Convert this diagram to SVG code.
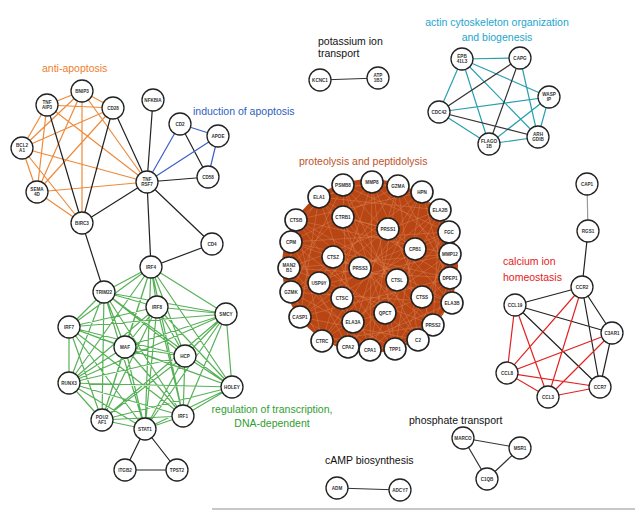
<svg xmlns="http://www.w3.org/2000/svg" width="635" height="511" viewBox="0 0 635 511">
<style>
.n circle{fill:#fff;stroke:#222;stroke-width:1.3}
.p circle{fill:#fff;stroke:#222;stroke-width:1.6}
.n text,.p text{font-family:"Liberation Sans",Arial,sans-serif;font-size:4.6px;font-weight:bold;text-anchor:middle;fill:#333}
.t{font-family:"Liberation Sans",Arial,sans-serif;font-size:10.5px}
.e{fill:none;stroke-width:1.2}
</style>
<rect width="635" height="511" fill="#fff"/>
<line x1="212" y1="509" x2="635" y2="509" stroke="#c8c8c8" stroke-width="2"/>
<ellipse id="proteolysis-mass" cx="370" cy="266" rx="88" ry="87" fill="#b84514"/>
<g id="connectors">
<path class="e" stroke="#ee8a3a" d="M82 91L47 105M82 91L113 108M82 91L22 148M82 91L37 192M82 91L82 223M82 91L147 182M47 105L113 108M47 105L22 148M47 105L37 192M47 105L147 182M113 108L22 148M113 108L37 192M22 148L37 192M22 148L82 223M37 192L82 223M22 148L147 182M37 192L147 182"/>
<path class="e" stroke="#222" d="M47 105L82 223M113 108L82 223M113 108L147 182M82 223L147 182M147 182L153 100M147 182L151 267M147 182L212 244M151 267L212 244M82 223L104 292M180 124L208 177M147 182L208 177"/>
<path class="e" stroke="#3a5fc8" d="M147 182L180 124M147 182L218 136M180 124L218 136M218 136L208 177"/>
<path class="e" stroke="#2e9e2e" stroke-opacity="0.8" d="M104 292L151 267M104 292L157 307M104 292L69 327M104 292L125 347M104 292L226 314M104 292L185 356M104 292L232 387M104 292L69 383M104 292L102 420M104 292L145 429M104 292L183 416M151 267L157 307M151 267L69 327M151 267L125 347M151 267L226 314M151 267L185 356M151 267L232 387M151 267L69 383M151 267L102 420M151 267L145 429M151 267L183 416M157 307L69 327M157 307L125 347M157 307L226 314M157 307L185 356M157 307L232 387M157 307L69 383M157 307L102 420M157 307L145 429M157 307L183 416M69 327L125 347M69 327L226 314M69 327L185 356M69 327L232 387M69 327L69 383M69 327L102 420M69 327L145 429M69 327L183 416M125 347L226 314M125 347L185 356M125 347L232 387M125 347L69 383M125 347L102 420M125 347L145 429M125 347L183 416M226 314L185 356M226 314L232 387M226 314L69 383M226 314L102 420M226 314L145 429M226 314L183 416M185 356L232 387M185 356L69 383M185 356L102 420M185 356L145 429M185 356L183 416M232 387L69 383M232 387L102 420M232 387L145 429M232 387L183 416M69 383L102 420M69 383L145 429M69 383L183 416M102 420L145 429M102 420L183 416M145 429L183 416"/>
<path class="e" stroke="#222" d="M145 429L125 470M145 429L177 470M125 470L177 470"/>
<g fill="none" stroke="#e08a5a" stroke-width="0.6" stroke-opacity="0.7">
<polygon points="319,197 450,278 300,317 398,186 418,340 291,242 449,232 348,347 343,185 452,303 291,292 422,192 395,349 296,220 450,254 322,341 372,182 433,325 289,268 440,210 370,350"/>
<polygon points="319,197 440,210 433,325 322,341 296,220 422,192 452,303 348,347 291,242 398,186 450,278 370,350 289,268 372,182 450,254 395,349 291,292 343,185 449,232 418,340 300,317"/>
<polygon points="319,197 433,325 296,220 452,303 291,242 450,278 289,268 450,254 291,292 449,232 300,317 440,210 322,341 422,192 348,347 398,186 370,350 372,182 395,349 343,185 418,340"/>
<polygon points="319,197 372,182 422,192 449,232 450,278 433,325 395,349 348,347 300,317 289,268 296,220 343,185 398,186 440,210 450,254 452,303 418,340 370,350 322,341 291,292 291,242"/>
<polygon points="343,217 388,229 415,249 397,280 422,297 385,313 353,322 342,298 319,283 333,257 360,268 343,217 397,280 353,322 319,283 388,229"/>
</g>
<path class="e" stroke="#2a9fb0" d="M462 59L520 58M462 59L439 112M462 59L549 97M462 59L538 137M462 59L489 144M520 58L538 137M549 97L439 112M549 97L489 144M549 97L538 137M439 112L489 144M489 144L538 137"/>
<path class="e" stroke="#333" d="M439 112L520 58M520 58L489 144M439 112L538 137"/>
<path class="e" stroke="#333" d="M320 80L378 78"/>
<path class="e" stroke="#999" d="M587 184L588 231"/>
<path class="e" stroke="#222" d="M588 231L582 287M582 287L515 305M582 287L612 333M582 287L600 387M515 305L612 333M515 305L600 387M612 333L600 387"/>
<path class="e" stroke="#e32222" d="M582 287L507 373M582 287L548 397M515 305L507 373M515 305L548 397M612 333L507 373M612 333L548 397M507 373L548 397M507 373L600 387M548 397L600 387"/>
<path class="e" stroke="#333" d="M463 438L520 448M463 438L487 479M487 479L520 448M337 488L400 490"/>
</g>
<g id="labels">
<text class="t" x="42" y="72" fill="#ee7f2d" font-size="11">anti-apoptosis</text>
<text class="t" x="193" y="115" fill="#2d5fc0" font-size="11">induction of apoptosis</text>
<text class="t" x="318" y="45" fill="#111" font-size="10">potassium ion</text>
<text class="t" x="318" y="57" fill="#111" font-size="10">transport</text>
<text class="t" x="497" y="26" fill="#22a5cc" text-anchor="middle">actin cytoskeleton organization</text>
<text class="t" x="497" y="41" fill="#22a5cc" text-anchor="middle">and biogenesis</text>
<text class="t" x="299" y="165" fill="#c0532a" font-size="11">proteolysis and peptidolysis</text>
<text class="t" x="503" y="265" fill="#e31b1b" font-size="12">calcium ion</text>
<text class="t" x="503" y="281" fill="#e31b1b" font-size="12">homeostasis</text>
<text class="t" x="272" y="413" fill="#2f9e2f" text-anchor="middle">regulation of transcription,</text>
<text class="t" x="272" y="427" fill="#2f9e2f" text-anchor="middle">DNA-dependent</text>
<text class="t" x="409" y="424" fill="#111">phosphate transport</text>
<text class="t" x="325" y="464" fill="#111">cAMP biosynthesis</text>
</g>
<g id="nodes">
<g id="BNIP3" class="n" transform="translate(82,91)"><circle r="11"/><text y="1.6">BNIP3</text></g>
<g id="TNFAIP3" class="n" transform="translate(47,105)"><circle r="11"/><text y="-1">TNF<tspan x="0" dy="5">AIP3</tspan></text></g>
<g id="CD28" class="n" transform="translate(113,108)"><circle r="11"/><text y="1.6">CD28</text></g>
<g id="BCL2A1" class="n" transform="translate(22,148)"><circle r="11"/><text y="-1">BCL2<tspan x="0" dy="5">A1</tspan></text></g>
<g id="SEMA4D" class="n" transform="translate(37,192)"><circle r="11"/><text y="-1">SEMA<tspan x="0" dy="5">4D</tspan></text></g>
<g id="BIRC3" class="n" transform="translate(82,223)"><circle r="11"/><text y="1.6">BIRC3</text></g>
<g id="TNFRSF7" class="n" transform="translate(147,182)"><circle r="11"/><text y="-1">TNF<tspan x="0" dy="5">RSF7</tspan></text></g>
<g id="NFKBIA" class="n" transform="translate(153,100)"><circle r="11"/><text y="1.6">NFKBIA</text></g>
<g id="CD2" class="n" transform="translate(180,124)"><circle r="11"/><text y="1.6">CD2</text></g>
<g id="APOE" class="n" transform="translate(218,136)"><circle r="11"/><text y="1.6">APOE</text></g>
<g id="CD58" class="n" transform="translate(208,177)"><circle r="11"/><text y="1.6">CD58</text></g>
<g id="CD4" class="n" transform="translate(212,244)"><circle r="11"/><text y="1.6">CD4</text></g>
<g id="TRIM22" class="n" transform="translate(104,292)"><circle r="11"/><text y="1.6">TRIM22</text></g>
<g id="IRF4" class="n" transform="translate(151,267)"><circle r="11"/><text y="1.6">IRF4</text></g>
<g id="IRF8" class="n" transform="translate(157,307)"><circle r="11"/><text y="1.6">IRF8</text></g>
<g id="IRF7" class="n" transform="translate(69,327)"><circle r="11"/><text y="1.6">IRF7</text></g>
<g id="MAF" class="n" transform="translate(125,347)"><circle r="11"/><text y="1.6">MAF</text></g>
<g id="SMCY" class="n" transform="translate(226,314)"><circle r="11"/><text y="1.6">SMCY</text></g>
<g id="HCP" class="n" transform="translate(185,356)"><circle r="11"/><text y="1.6">HCP</text></g>
<g id="HOLEY" class="n" transform="translate(232,387)"><circle r="11"/><text y="1.6">HOLEY</text></g>
<g id="RUNX3" class="n" transform="translate(69,383)"><circle r="11"/><text y="1.6">RUNX3</text></g>
<g id="POU2AF1" class="n" transform="translate(102,420)"><circle r="11"/><text y="-1">POU2<tspan x="0" dy="5">AF1</tspan></text></g>
<g id="STAT1" class="n" transform="translate(145,429)"><circle r="11"/><text y="1.6">STAT1</text></g>
<g id="IRF1" class="n" transform="translate(183,416)"><circle r="11"/><text y="1.6">IRF1</text></g>
<g id="ITGB2" class="n" transform="translate(125,470)"><circle r="11"/><text y="1.6">ITGB2</text></g>
<g id="TPST2" class="n" transform="translate(177,470)"><circle r="11"/><text y="1.6">TPST2</text></g>
<g id="KCNC1" class="n" transform="translate(320,80)"><circle r="11"/><text y="1.6">KCNC1</text></g>
<g id="ATP1B3" class="n" transform="translate(378,78)"><circle r="11"/><text y="-1">ATP<tspan x="0" dy="5">1B3</tspan></text></g>
<g id="EPB41L3" class="n" transform="translate(462,59)"><circle r="11"/><text y="-1">EPB<tspan x="0" dy="5">41L3</tspan></text></g>
<g id="CAPG" class="n" transform="translate(520,58)"><circle r="11"/><text y="1.6">CAPG</text></g>
<g id="WASPIP" class="n" transform="translate(549,97)"><circle r="11"/><text y="-1">WASP<tspan x="0" dy="5">IP</tspan></text></g>
<g id="CDC42" class="n" transform="translate(439,112)"><circle r="11"/><text y="1.6">CDC42</text></g>
<g id="ARHGDIB" class="n" transform="translate(538,137)"><circle r="11"/><text y="-1">ARH<tspan x="0" dy="5">GDIB</tspan></text></g>
<g id="FLAGO1B" class="n" transform="translate(489,144)"><circle r="11"/><text y="-1">FLAGO<tspan x="0" dy="5">1B</tspan></text></g>
<g id="PSMB8" class="p" transform="translate(343,185)"><circle r="11"/><text y="1.6">PSMB8</text></g>
<g id="MMP8" class="p" transform="translate(372,182)"><circle r="11"/><text y="1.6">MMP8</text></g>
<g id="GZMA" class="p" transform="translate(398,186)"><circle r="11"/><text y="1.6">GZMA</text></g>
<g id="HPN" class="p" transform="translate(422,192)"><circle r="11"/><text y="1.6">HPN</text></g>
<g id="ELA2B" class="p" transform="translate(440,210)"><circle r="11"/><text y="1.6">ELA2B</text></g>
<g id="FGC" class="p" transform="translate(449,232)"><circle r="11"/><text y="1.6">FGC</text></g>
<g id="MMP12" class="p" transform="translate(450,254)"><circle r="11"/><text y="1.6">MMP12</text></g>
<g id="DPEP1" class="p" transform="translate(450,278)"><circle r="11"/><text y="1.6">DPEP1</text></g>
<g id="ELA3B" class="p" transform="translate(452,303)"><circle r="11"/><text y="1.6">ELA3B</text></g>
<g id="PRSS2" class="p" transform="translate(433,325)"><circle r="11"/><text y="1.6">PRSS2</text></g>
<g id="C2" class="p" transform="translate(418,340)"><circle r="11"/><text y="1.6">C2</text></g>
<g id="TPP1" class="p" transform="translate(395,349)"><circle r="11"/><text y="1.6">TPP1</text></g>
<g id="CPA1" class="p" transform="translate(370,350)"><circle r="11"/><text y="1.6">CPA1</text></g>
<g id="CPA2" class="p" transform="translate(348,347)"><circle r="11"/><text y="1.6">CPA2</text></g>
<g id="CTRC" class="p" transform="translate(322,341)"><circle r="11"/><text y="1.6">CTRC</text></g>
<g id="CASP1" class="p" transform="translate(300,317)"><circle r="11"/><text y="1.6">CASP1</text></g>
<g id="GZMK" class="p" transform="translate(291,292)"><circle r="11"/><text y="1.6">GZMK</text></g>
<g id="MAN2B1" class="p" transform="translate(289,268)"><circle r="11"/><text y="-1">MAN2<tspan x="0" dy="5">B1</tspan></text></g>
<g id="CPM" class="p" transform="translate(291,242)"><circle r="11"/><text y="1.6">CPM</text></g>
<g id="CTSB" class="p" transform="translate(296,220)"><circle r="11"/><text y="1.6">CTSB</text></g>
<g id="ELA1" class="p" transform="translate(319,197)"><circle r="11"/><text y="1.6">ELA1</text></g>
<g id="CTRB1" class="p" transform="translate(343,217)"><circle r="11"/><text y="1.6">CTRB1</text></g>
<g id="PRSS1" class="p" transform="translate(388,229)"><circle r="11"/><text y="1.6">PRSS1</text></g>
<g id="CPB1" class="p" transform="translate(415,249)"><circle r="11"/><text y="1.6">CPB1</text></g>
<g id="CTSZ" class="p" transform="translate(333,257)"><circle r="11"/><text y="1.6">CTSZ</text></g>
<g id="PRSS3" class="p" transform="translate(360,268)"><circle r="11"/><text y="1.6">PRSS3</text></g>
<g id="CTSL" class="p" transform="translate(397,280)"><circle r="11"/><text y="1.6">CTSL</text></g>
<g id="USP9Y" class="p" transform="translate(319,283)"><circle r="11"/><text y="1.6">USP9Y</text></g>
<g id="CTSC" class="p" transform="translate(342,298)"><circle r="11"/><text y="1.6">CTSC</text></g>
<g id="CTSS" class="p" transform="translate(422,297)"><circle r="11"/><text y="1.6">CTSS</text></g>
<g id="QPCT" class="p" transform="translate(385,313)"><circle r="11"/><text y="1.6">QPCT</text></g>
<g id="ELA3A" class="p" transform="translate(353,322)"><circle r="11"/><text y="1.6">ELA3A</text></g>
<g id="CAP1" class="n" transform="translate(587,184)"><circle r="11"/><text y="1.6">CAP1</text></g>
<g id="RGS1" class="n" transform="translate(588,231)"><circle r="11"/><text y="1.6">RGS1</text></g>
<g id="CCR2" class="n" transform="translate(582,287)"><circle r="11"/><text y="1.6">CCR2</text></g>
<g id="CCL19" class="n" transform="translate(515,305)"><circle r="11"/><text y="1.6">CCL19</text></g>
<g id="C3AR1" class="n" transform="translate(612,333)"><circle r="11"/><text y="1.6">C3AR1</text></g>
<g id="CCL8" class="n" transform="translate(507,373)"><circle r="11"/><text y="1.6">CCL8</text></g>
<g id="CCR7" class="n" transform="translate(600,387)"><circle r="11"/><text y="1.6">CCR7</text></g>
<g id="CCL3" class="n" transform="translate(548,397)"><circle r="11"/><text y="1.6">CCL3</text></g>
<g id="MARCO" class="n" transform="translate(463,438)"><circle r="11"/><text y="1.6">MARCO</text></g>
<g id="MSR1" class="n" transform="translate(520,448)"><circle r="11"/><text y="1.6">MSR1</text></g>
<g id="C1QB" class="n" transform="translate(487,479)"><circle r="11"/><text y="1.6">C1QB</text></g>
<g id="ADM" class="n" transform="translate(337,488)"><circle r="11"/><text y="1.6">ADM</text></g>
<g id="ADCY7" class="n" transform="translate(400,490)"><circle r="11"/><text y="1.6">ADCY7</text></g>
</g>
</svg>
